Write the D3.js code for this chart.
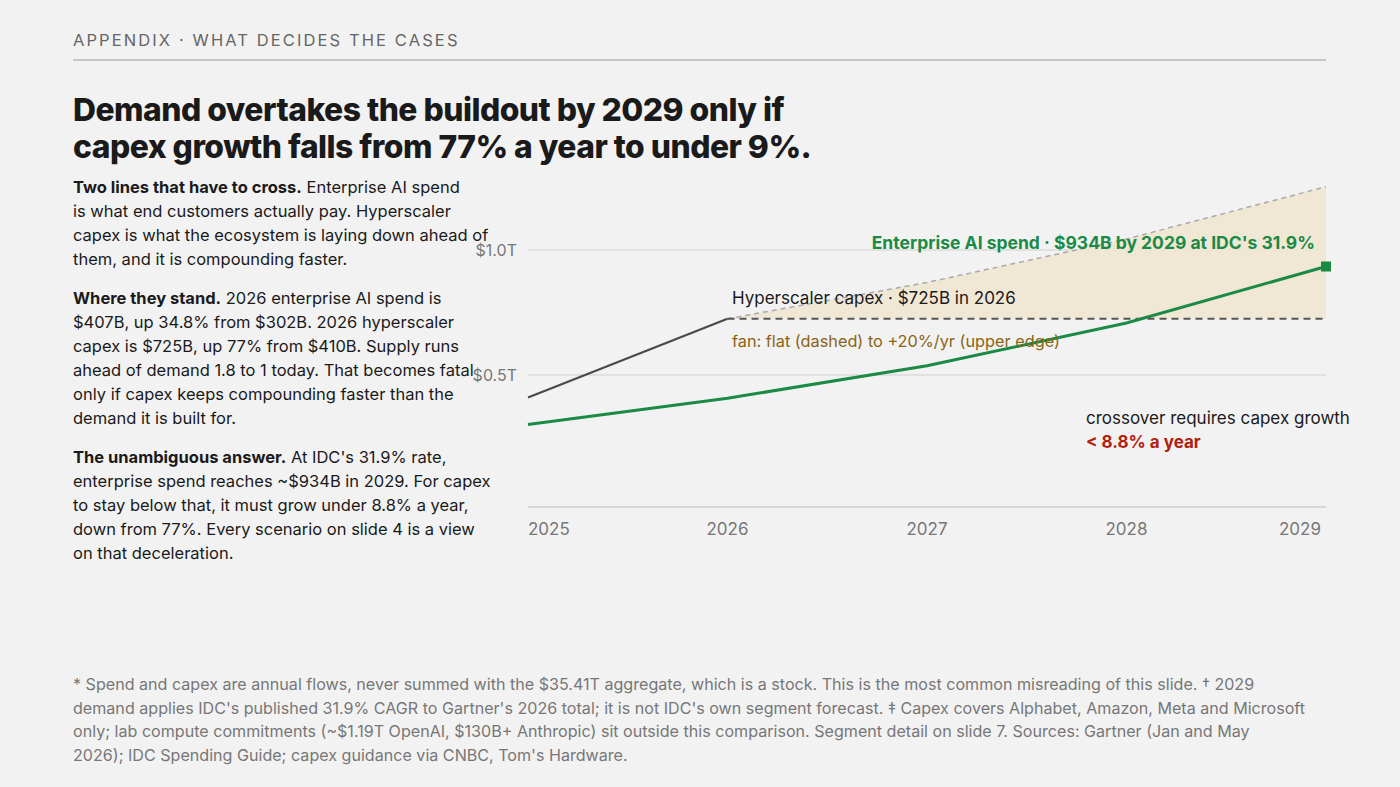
<!DOCTYPE html>
<html><head><meta charset="utf-8">
<script src="https://cdn.jsdelivr.net/npm/d3@7"></script>
<style>
body{margin:0;background:#f2f2f2;font-family:Inter,"Open Sans",sans-serif;}
svg text{font-family:Inter,"Open Sans",sans-serif;}
</style></head><body>
<svg id="chart" width="1400" height="787"></svg>
<script>
// data ($B)
const years = [2025, 2026, 2027, 2028, 2029];
const enterpriseSpend = [302, 407, 537, 708, 934];
const capexYears = [2025, 2026];
const capexActual = [410, 725];
const fanYears = [2026, 2027, 2028, 2029];
const fanFlat = [725, 725, 725, 725];
const fanUpper = [725, 870, 1044, 1253];
const yTicks = [500, 1000];
const yTickLabels = ["$0.5T", "$1.0T"];

const svg = d3.select("#chart");
const green = "#1a8a45";

// header
svg.append("text").attr("x", 73).attr("y", 46).attr("font-size", 16.5).attr("letter-spacing", 2.1)
  .attr("fill", "#666").text("APPENDIX · WHAT DECIDES THE CASES");
svg.append("line").attr("x1", 73).attr("x2", 1326).attr("y1", 60).attr("y2", 60).attr("stroke", "#999");
["Demand overtakes the buildout by 2029 only if", "capex growth falls from 77% a year to under 9%."]
  .forEach((t, i) => svg.append("text").attr("x", 73).attr("y", 121 + i * 37).attr("font-size", 31.8)
    .attr("font-weight", 800).attr("fill", "#1a1a1a").attr("letter-spacing", -0.5).text(t));

// body paragraphs
const paras = [
  [["Two lines that have to cross.", " Enterprise AI spend"], "is what end customers actually pay. Hyperscaler", "capex is what the ecosystem is laying down ahead of", "them, and it is compounding faster."],
  [["Where they stand.", " 2026 enterprise AI spend is"], "$407B, up 34.8% from $302B. 2026 hyperscaler", "capex is $725B, up 77% from $410B. Supply runs", "ahead of demand 1.8 to 1 today. That becomes fatal", "only if capex keeps compounding faster than the", "demand it is built for."],
  [["The unambiguous answer.", " At IDC's 31.9% rate,"], "enterprise spend reaches ~$934B in 2029. For capex", "to stay below that, it must grow under 8.8% a year,", "down from 77%. Every scenario on slide 4 is a view", "on that deceleration."]
];
const paraY = [193, 304, 463];
paras.forEach((p, pi) => {
  p.forEach((line, li) => {
    const t = svg.append("text").attr("x", 73).attr("y", paraY[pi] + li * 24).attr("font-size", 16.5).attr("fill", "#1a1a1a");
    if (Array.isArray(line)) {
      t.append("tspan").attr("font-weight", 700).text(line[0]);
      t.append("tspan").text(line[1]);
    } else t.text(line);
  });
});

// chart
const x = d3.scaleLinear().domain([2025, 2029]).range([528, 1326]);
const y = d3.scaleLinear().domain([0, 1000]).range([500, 250]);

yTicks.forEach((v, i) => {
  svg.append("line").attr("x1", 528).attr("x2", 1326).attr("y1", y(v)).attr("y2", y(v)).attr("stroke", "#cfcfcf");
  svg.append("text").attr("x", 517).attr("y", y(v) + 6).attr("text-anchor", "end").attr("font-size", 16)
    .attr("fill", "#777").text(yTickLabels[i]);
});
svg.append("line").attr("x1", 528).attr("x2", 1326).attr("y1", 507).attr("y2", 507).attr("stroke", "#bbb");
years.forEach((yr, i) => {
  svg.append("text").attr("x", i === years.length - 1 ? x(yr) - 5 : x(yr)).attr("y", 535)
    .attr("text-anchor", i === 0 ? "start" : i === years.length - 1 ? "end" : "middle")
    .attr("font-size", 17).attr("fill", "#777").text(yr);
});

// fan
const area = d3.area().x((d, i) => x(fanYears[i])).y0((d, i) => y(fanFlat[i])).y1(d => y(d));
svg.append("path").attr("d", area(fanUpper)).attr("fill", "#efe6d2").attr("opacity", 0.9);
const line = d3.line().x(d => x(d[0])).y(d => y(d[1]));
svg.append("path").attr("d", line(fanYears.map((yr, i) => [yr, fanUpper[i]])))
  .attr("fill", "none").attr("stroke", "#aaa").attr("stroke-width", 1.5).attr("stroke-dasharray", "5,4");
svg.append("path").attr("d", line(fanYears.map((yr, i) => [yr, fanFlat[i]])))
  .attr("fill", "none").attr("stroke", "#555").attr("stroke-width", 2).attr("stroke-dasharray", "7,5");
svg.append("path").attr("d", line(capexYears.map((yr, i) => [yr, capexActual[i]])))
  .attr("fill", "none").attr("stroke", "#4a4a4a").attr("stroke-width", 2.2);
svg.append("path").attr("d", line(years.map((yr, i) => [yr, enterpriseSpend[i]])))
  .attr("fill", "none").attr("stroke", green).attr("stroke-width", 3);
svg.append("rect").attr("x", x(2029) - 5).attr("y", y(934) - 5).attr("width", 10).attr("height", 10).attr("fill", green);

// annotations
svg.append("text").attr("x", 1315).attr("y", 249).attr("text-anchor", "end").attr("font-size", 17.5)
  .attr("font-weight", 700).attr("fill", green).text("Enterprise AI spend · $934B by 2029 at IDC's 31.9%");
svg.append("text").attr("x", 732).attr("y", 304).attr("font-size", 17).attr("fill", "#1a1a1a")
  .text("Hyperscaler capex · $725B in 2026");
svg.append("text").attr("x", 732).attr("y", 347).attr("font-size", 16.3).attr("fill", "#8a6414")
  .text("fan: flat (dashed) to +20%/yr (upper edge)");
svg.append("text").attr("x", 1086).attr("y", 424).attr("font-size", 17).attr("fill", "#1a1a1a")
  .text("crossover requires capex growth");
svg.append("text").attr("x", 1086).attr("y", 448).attr("font-size", 17).attr("font-weight", 700).attr("fill", "#b3200e")
  .text("< 8.8% a year");

// footnote
["* Spend and capex are annual flows, never summed with the $35.41T aggregate, which is a stock. This is the most common misreading of this slide.  † 2029",
 "demand applies IDC's published 31.9% CAGR to Gartner's 2026 total; it is not IDC's own segment forecast.  ‡ Capex covers Alphabet, Amazon, Meta and Microsoft",
 "only; lab compute commitments (~$1.19T OpenAI, $130B+ Anthropic) sit outside this comparison. Segment detail on slide 7. Sources: Gartner (Jan and May",
 "2026); IDC Spending Guide; capex guidance via CNBC, Tom's Hardware."]
  .forEach((t, i) => svg.append("text").attr("x", 73).attr("y", 690 + i * 23.5).attr("font-size", 16.1)
    .attr("fill", "#777").text(t));
</script>
</body></html>
